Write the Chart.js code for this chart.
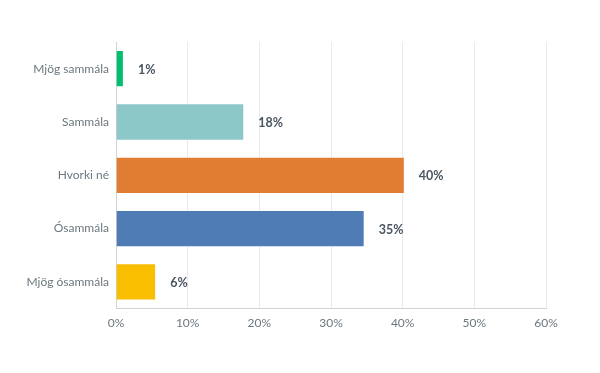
<!DOCTYPE html>
<html>
<head>
<meta charset="utf-8">
<script src="https://cdn.jsdelivr.net/npm/chart.js@4"></script>
<style>
  html, body { margin: 0; padding: 0; background: #fff; }
  #wrap { width: 600px; height: 373px; }
</style>
</head>
<body>
<div id="wrap"><canvas id="chart" width="600" height="373"></canvas></div>
<script>
const categories = ["Mjög sammála", "Sammála", "Hvorki né", "Ósammála", "Mjög ósammála"];
const values = [1.1, 17.9, 40.3, 34.7, 5.6];
const valueLabels = ["1%", "18%", "40%", "35%", "6%"];
const barColors = ["#00bf6f", "#8dc8c9", "#e07d33", "#507cb6", "#f9be00"];
const xTicks = [0, 10, 20, 30, 40, 50, 60];

const FONT = "Lato, 'Open Sans', sans-serif";

// draws the percentage text right of each bar
const valueLabelPlugin = {
  id: "valueLabels",
  afterDatasetsDraw(chart) {
    const ctx = chart.ctx;
    const meta = chart.getDatasetMeta(0);
    ctx.save();
    ctx.font = "bold 12.5px " + FONT;
    ctx.fillStyle = "#4a5561";
    ctx.textAlign = "left";
    ctx.textBaseline = "middle";
    meta.data.forEach((bar, i) => {
      ctx.fillText(valueLabels[i], bar.x + 14, bar.y + 1);
    });
    ctx.restore();
  },
};

const ctx = document.getElementById("chart").getContext("2d");
new Chart(ctx, {
  type: "bar",
  data: {
    labels: categories,
    datasets: [
      {
        data: values,
        backgroundColor: barColors,
        borderColor: "rgba(255,255,255,0.35)",
        borderWidth: 1,
        barPercentage: 0.7,
        categoryPercentage: 1,
      },
    ],
  },
  options: {
    indexAxis: "y",
    responsive: false,
    animation: false,
    layout: { padding: { top: 42, right: 54, bottom: 36, left: 0 } },
    plugins: {
      legend: { display: false },
      tooltip: { enabled: false },
    },
    scales: {
      x: {
        min: 0,
        max: 60,
        afterBuildTicks(axis) {
          axis.ticks = xTicks.map((v) => ({ value: v }));
        },
        ticks: {
          callback: (v) => v + "%",
          color: "#6b787f",
          font: { family: FONT, size: 12 },
          padding: 7,
        },
        grid: { color: "#e9eaeb", drawTicks: false },
        border: { color: "#d0d2d3" },
      },
      y: {
        afterFit(axis) {
          axis.width = 116;
        },
        ticks: {
          color: "#6b787f",
          font: { family: FONT, size: 12 },
          padding: 7,
        },
        grid: { display: false, drawTicks: false },
        border: { color: "#d0d2d3" },
      },
    },
  },
  plugins: [valueLabelPlugin],
});
</script>
</body>
</html>
